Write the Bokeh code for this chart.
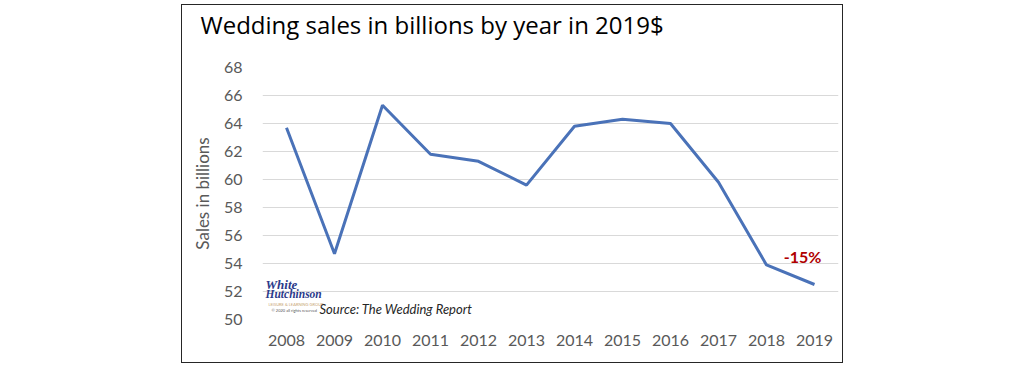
from bokeh.plotting import figure
from bokeh.models import FactorRange, Range1d, Label, SingleIntervalTicker, Title
from bokeh.core.properties import value
from bokeh.embed import file_html
from bokeh.resources import INLINE

years = ["2008", "2009", "2010", "2011", "2012", "2013", "2014", "2015", "2016", "2017", "2018", "2019"]
sales = [63.7, 54.7, 65.3, 61.8, 61.3, 59.6, 63.8, 64.3, 64.0, 59.8, 53.9, 52.5]
title_text = "Wedding sales in billions by year in 2019$"
y_label = "Sales in billions"
source_text = "Source: The Wedding Report"
change_text = "-15%"

FONT = "Lato"
GRAY = "#595959"

p = figure(x_range=FactorRange(*years), y_range=Range1d(50, 68),
           width=662, height=359, output_backend="svg", toolbar_location=None,
           min_border_left=80, min_border_right=6, min_border_top=62, min_border_bottom=45,
           title=title_text)
p.margin = (4, 0, 0, 181)
p.styles = {"border": "1.5px solid #262626"}
p.outline_line_color = None
p.background_fill_color = "white"
p.border_fill_color = "white"

p.title.align = "left"
p.title.vertical_align = "top"
p.title.offset = -62
p.title.text_font = "Open Sans"
p.title.text_font_style = "normal"
p.title.text_font_size = "24px"
p.title.text_color = "#000000"
p.title.standoff = 4

# invisible spacer between the title and the plot frame, pushes the title upward
p.add_layout(Title(text=" ", text_font_size="1px", standoff=20), "above")

p.line(x=years, y=sales, line_color="#4A72B8", line_width=3)

p.xgrid.grid_line_color = None
p.ygrid.grid_line_color = "#D9D9D9"
p.ygrid.grid_line_width = 1
p.yaxis.ticker = SingleIntervalTicker(interval=2)

for ax in (p.xaxis, p.yaxis):
    ax.axis_line_color = None
    ax.major_tick_line_color = None
    ax.minor_tick_line_color = None
    ax.major_label_text_font = FONT
    ax.major_label_text_color = GRAY
    ax.major_label_text_font_size = "16px"

p.xaxis.major_label_standoff = 9
p.yaxis.major_label_standoff = 14
p.yaxis.axis_label = y_label
p.yaxis.axis_label_text_font = FONT
p.yaxis.axis_label_text_font_style = "normal"
p.yaxis.axis_label_text_color = GRAY
p.yaxis.axis_label_text_font_size = "17px"
p.yaxis.axis_label_standoff = 8

p.text(x=["2019"], y=[54.5], text=[change_text], x_offset=-12,
       text_font=value(FONT), text_font_style="bold", text_font_size="16px",
       text_color="#B00000", text_align="center", text_baseline="middle")

# logo (approximated as text) and source note; screen x measured from the frame's left edge
p.add_layout(Label(x=3, y=52.5, x_units="screen", text="White",
                   text_font="Liberation Serif", text_font_style="bold italic",
                   text_font_size="13px", text_color="#2B3A8A", text_baseline="middle"))
p.add_layout(Label(x=3, y=51.8, x_units="screen", text="Hutchinson",
                   text_font="Liberation Serif", text_font_style="bold italic",
                   text_font_size="11.5px", text_color="#2B3A8A", text_baseline="middle"))
p.add_layout(Label(x=6, y=51.1, x_units="screen", text="LEISURE & LEARNING GROUP",
                   text_font=FONT, text_font_size="4px", text_color="#C9A574",
                   text_baseline="middle"))
p.add_layout(Label(x=9, y=50.65, x_units="screen", text="© 2020 all rights reserved",
                   text_font=FONT, text_font_size="4px", text_color="#555555",
                   text_baseline="middle"))
p.add_layout(Label(x=57, y=50.75, x_units="screen", text=source_text,
                   text_font=FONT, text_font_style="italic", text_font_size="13px",
                   text_color="#262626", text_baseline="middle"))

open("out.html", "w").write(file_html(p, INLINE))
